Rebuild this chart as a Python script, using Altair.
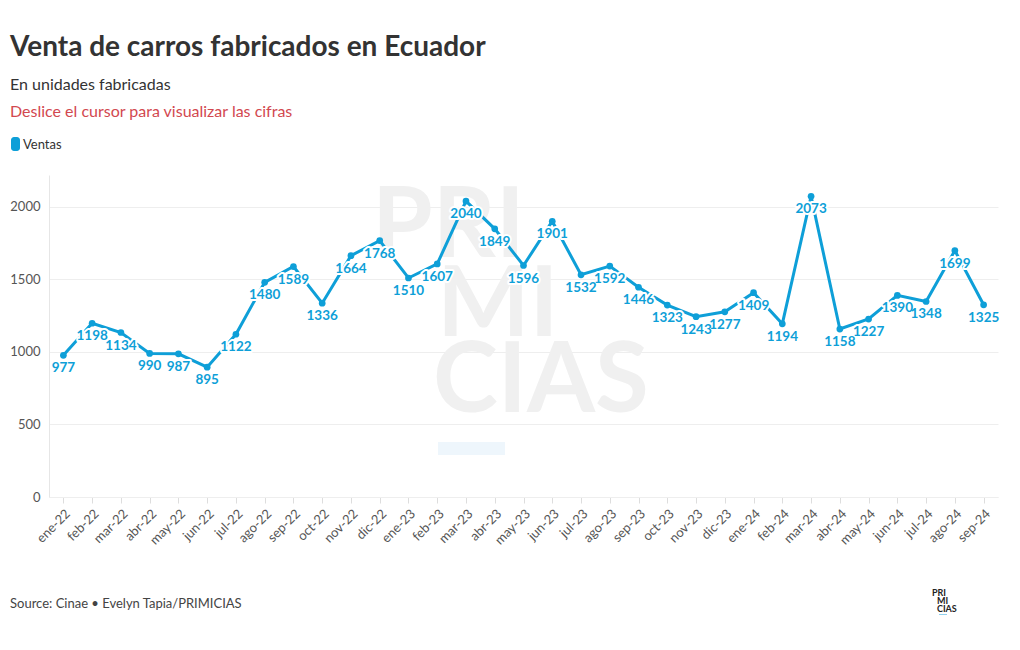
import altair as alt
import pandas as pd

months = ["ene-22","feb-22","mar-22","abr-22","may-22","jun-22","jul-22","ago-22","sep-22","oct-22","nov-22","dic-22",
          "ene-23","feb-23","mar-23","abr-23","may-23","jun-23","jul-23","ago-23","sep-23","oct-23","nov-23","dic-23",
          "ene-24","feb-24","mar-24","abr-24","may-24","jun-24","jul-24","ago-24","sep-24"]
ventas = [977,1198,1134,990,987,895,1122,1480,1589,1336,1664,1768,
          1510,1607,2040,1849,1596,1901,1532,1592,1446,1323,1243,1277,
          1409,1194,2073,1158,1227,1390,1348,1699,1325]

FONT = "Lato"
BLUE = "#0e9fd8"
W, H = 949, 322

df = pd.DataFrame({"mes": months, "ventas": ventas})

x = alt.X("mes:N", sort=months, title=None,
          scale=alt.Scale(type="point", padding=0.5),
          axis=alt.Axis(labelAngle=-45, labelFontSize=13, labelColor="#555", labelFont=FONT,
                        tickColor="#ddd", tickSize=6, domainColor="#eee", labelPadding=4))
y = alt.Y("ventas:Q", title=None,
          scale=alt.Scale(domain=[0, 2220], nice=False),
          axis=alt.Axis(values=[0, 500, 1000, 1500, 2000], format="d", labelFontSize=13,
                        labelColor="#555", labelFont=FONT, gridColor="#eee", domain=True,
                        domainColor="#e6e6e6", ticks=False, labelPadding=9))

base = alt.Chart(df)


def txt(s, px, py, size, color, weight="normal"):
    return alt.Chart(pd.DataFrame({"t": [s]})).mark_text(
        font=FONT, fontSize=size, color=color, fontWeight=weight, align="left", baseline="alphabetic"
    ).encode(x=alt.value(px - 49), y=alt.value(py - 175), text="t:N")


def box(x0, x1, y0, y1, color, r=0):
    return alt.Chart(pd.DataFrame({"a": [1]})).mark_rect(color=color, cornerRadius=r).encode(
        x=alt.value(x0 - 49), x2=alt.value(x1 - 49), y=alt.value(y0 - 175), y2=alt.value(y1 - 175))


# watermark
wm1 = txt("PRI", 372, 257, 98, "#f0f0f0", "bold")
wm2 = txt("MI", 437, 336, 98, "#f0f0f0", "bold")
wm3 = txt("CIAS", 433, 412, 98, "#f0f0f0", "bold")
wm_rect = box(438, 505, 442, 455, "#eef6fc")

line = base.mark_line(color=BLUE, strokeWidth=3).encode(x=x, y=y)
pts = base.mark_circle(color=BLUE, size=45, opacity=1).encode(x=x, y=y)
halo = base.mark_text(font=FONT, fontWeight="bold", fontSize=13.5, dy=13, stroke="white",
                      strokeWidth=4, color="white", strokeJoin="round").encode(x=x, y=y, text="ventas:Q")
labels = base.mark_text(font=FONT, fontWeight="bold", fontSize=13.5, dy=13, color=BLUE).encode(
    x=x, y=y, text="ventas:Q")

title = txt("Venta de carros fabricados en Ecuador", 10, 56, 28, "#333", "bold")
sub1 = txt("En unidades fabricadas", 10, 90, 16, "#333")
sub2 = txt("Deslice el cursor para visualizar las cifras", 10, 117, 16, "#d2484f")
leg_box = box(11, 20, 137, 151, BLUE, 3)
leg_txt = txt("Ventas", 23, 149, 13, "#333")
source = txt("Source: Cinae • Evelyn Tapia/PRIMICIAS", 10, 608, 13, "#444")
logo1 = txt("PRI", 932, 596, 9, "#222", "bold")
logo2 = txt("MI", 937, 604, 9, "#222", "bold")
logo3 = txt("CIAS", 937, 612, 9, "#222", "bold")
logo_bar = box(939, 947, 614, 615, "#8fd0ee")

chart = alt.layer(
    wm1, wm2, wm3, wm_rect, line, pts, halo, labels,
    title, sub1, sub2, leg_box, leg_txt, source, logo1, logo2, logo3, logo_bar
).properties(
    width=W, height=H,
    background="white",
    autosize=alt.AutoSizeParams(type="none"),
    padding={"left": 41, "top": 167, "right": 10, "bottom": 130},
).configure_view(stroke=None)

chart.save("out.html", embed_options={"renderer": "svg", "actions": False})
